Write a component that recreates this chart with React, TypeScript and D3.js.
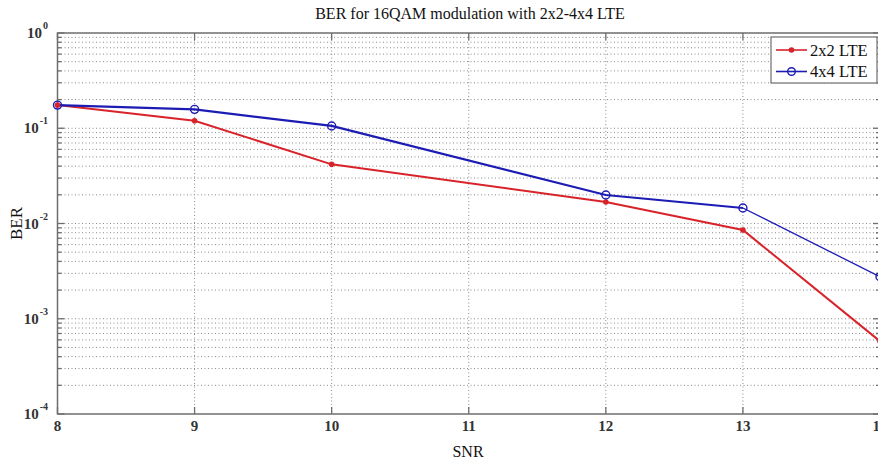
import React from "react";
import * as d3 from "d3";

const snr = [8, 9, 10, 12, 13, 14];
const ber2x2 = [0.175, 0.12, 0.0418, 0.0168, 0.00855, 0.00058];
const ber4x4 = [0.175, 0.158, 0.1057, 0.0199, 0.01455, 0.00276];
const xTicks = [8, 9, 10, 11, 12, 13, 14];
const yDecades = [0, -1, -2, -3, -4];
const seriesNames = ["2x2 LTE", "4x4 LTE"];

const W = 878, H = 464;
const L = 57.5, R = 880, T = 33, B = 414;
const FONT = "'Liberation Serif', 'Times New Roman', serif";
const RED = "#d8232a";
const BLUE = "#1c1cb4";
const FRAME = "#6e6e6e";
const GRID = "#8a8a8a";

export default function App() {
  const x = d3.scaleLinear().domain([8, 14]).range([L, R]);
  const y = d3.scaleLog().domain([1e-4, 1]).range([B, T]);

  const minor: number[] = [];
  for (let e = -4; e < 0; e++) {
    for (let m = 2; m <= 9; m++) minor.push(m * Math.pow(10, e));
  }
  const majors = yDecades.map((e) => Math.pow(10, e));

  const line = d3
    .line<[number, number]>()
    .x((d) => x(d[0]))
    .y((d) => y(d[1]));
  const red = snr.map((s, i) => [s, ber2x2[i]] as [number, number]);
  const blue = snr.map((s, i) => [s, ber4x4[i]] as [number, number]);

  const legX = 771, legY = 37, legW = 106, legH = 46;

  return (
    <svg
      width={W}
      height={H}
      style={{ position: "absolute", left: 0, top: 0, background: "#fff" }}
    >
      <rect x={0} y={0} width={W} height={H} fill="#fff" />
      {/* grid */}
      <g stroke={GRID} strokeWidth={1} strokeDasharray="1,2.5">
        {xTicks.map((t) => (
          <line key={"gx" + t} x1={x(t)} x2={x(t)} y1={T} y2={B} />
        ))}
        {[...minor, ...majors.slice(1, 4)].map((v, i) => (
          <line key={"gy" + i} x1={L} x2={R} y1={y(v)} y2={y(v)} />
        ))}
      </g>
      {/* ticks */}
      <g stroke={FRAME} strokeWidth={1.3}>
        {xTicks.map((t) => (
          <g key={"tx" + t}>
            <line x1={x(t)} x2={x(t)} y1={B} y2={B - 7} />
            <line x1={x(t)} x2={x(t)} y1={T} y2={T + 7} />
          </g>
        ))}
        {majors.map((v, i) => (
          <g key={"tyM" + i}>
            <line x1={L} x2={L + 7} y1={y(v)} y2={y(v)} />
            <line x1={R} x2={R - 7} y1={y(v)} y2={y(v)} />
          </g>
        ))}
        {minor.map((v, i) => (
          <g key={"tym" + i}>
            <line x1={L} x2={L + 4} y1={y(v)} y2={y(v)} />
            <line x1={R} x2={R - 4} y1={y(v)} y2={y(v)} />
          </g>
        ))}
      </g>
      {/* frame */}
      <rect x={L} y={T} width={R - L} height={B - T} fill="none" stroke={FRAME} strokeWidth={1.5} />
      {/* lines */}
      <path d={line(red) || ""} fill="none" stroke={RED} strokeWidth={2} />
      <path d={line(blue.slice(0, 5)) || ""} fill="none" stroke={BLUE} strokeWidth={2.2} />
      <path d={line(blue.slice(4)) || ""} fill="none" stroke={BLUE} strokeWidth={1.3} />
      {red.map((d, i) => (
        <circle key={"rm" + i} cx={x(d[0])} cy={y(d[1])} r={2.8} fill={RED} />
      ))}
      {blue.map((d, i) => (
        <circle key={"bm" + i} cx={x(d[0])} cy={y(d[1])} r={4} fill="none" stroke={BLUE} strokeWidth={1.4} />
      ))}
      {/* x tick labels */}
      {xTicks.map((t) => (
        <text key={"xl" + t} x={x(t)} y={431} textAnchor="middle" fontFamily={FONT} fontSize={15} fontWeight="bold" fill="#333">
          {t}
        </text>
      ))}
      {/* y tick labels */}
      {yDecades.map((e) => (
        <text key={"yl" + e} x={48} y={y(Math.pow(10, e)) + 5} textAnchor="end" fontFamily={FONT} fontSize={15} fontWeight="bold" fill="#333">
          10
          <tspan dx={1} dy={-9} fontSize={10}>
            {e === 0 ? "0" : "-" + Math.abs(e)}
          </tspan>
        </text>
      ))}
      {/* title & labels */}
      <text x={470} y={19} textAnchor="middle" fontFamily={FONT} fontSize={16} fill="#111">
        BER for 16QAM modulation with 2x2-4x4 LTE
      </text>
      <text x={468} y={457} textAnchor="middle" fontFamily={FONT} fontSize={16} fill="#111">
        SNR
      </text>
      <text
        transform={`translate(22, ${(T + B) / 2}) rotate(-90)`}
        textAnchor="middle"
        fontFamily={FONT}
        fontSize={17}
        fill="#111"
      >
        BER
      </text>
      {/* legend */}
      <rect x={legX} y={legY} width={legW} height={legH} fill="#fff" stroke={FRAME} strokeWidth={1.2} />
      {seriesNames.map((name, i) => {
        const cy = legY + 13 + i * 21.5;
        const color = i === 0 ? RED : BLUE;
        return (
          <g key={name}>
            <line x1={776} x2={807} y1={cy} y2={cy} stroke={color} strokeWidth={1.6} />
            {i === 0 ? (
              <circle cx={791.5} cy={cy} r={2.8} fill={color} />
            ) : (
              <circle cx={791.5} cy={cy} r={3.8} fill="none" stroke={color} strokeWidth={1.4} />
            )}
            <text x={810} y={cy + 5.5} fontFamily={FONT} fontSize={16.5} fill="#111">
              {name}
            </text>
          </g>
        );
      })}
    </svg>
  );
}
